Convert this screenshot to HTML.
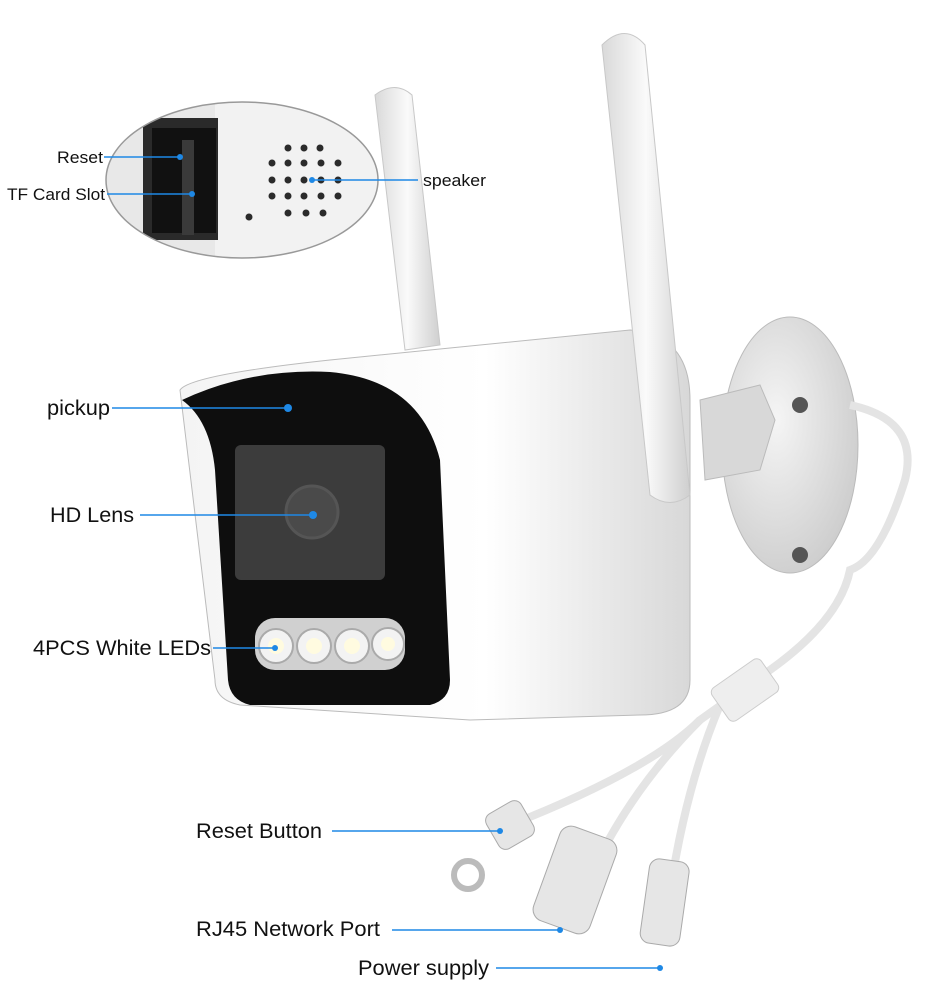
<!DOCTYPE html>
<html><head><meta charset="utf-8"><style>
html,body{margin:0;padding:0;background:#fff;}
svg{display:block;font-family:"Liberation Sans",sans-serif;}
</style></head><body>
<svg width="950" height="1000" viewBox="0 0 950 1000" xmlns="http://www.w3.org/2000/svg">
<defs>
<linearGradient id="body" x1="0" y1="0" x2="1" y2="0"><stop offset="0" stop-color="#f4f4f4"/><stop offset="0.6" stop-color="#ffffff"/><stop offset="1" stop-color="#d8d8d8"/></linearGradient>
<linearGradient id="ant" x1="0" y1="0" x2="1" y2="0"><stop offset="0" stop-color="#d9d9d9"/><stop offset="0.5" stop-color="#fafafa"/><stop offset="1" stop-color="#cfcfcf"/></linearGradient>
<radialGradient id="mnt" cx="0.4" cy="0.4" r="0.7"><stop offset="0" stop-color="#f5f5f5"/><stop offset="1" stop-color="#cacaca"/></radialGradient>
<clipPath id="ec"><ellipse cx="242" cy="180" rx="136" ry="78"/></clipPath>
</defs>
<g clip-path="url(#ec)">
<rect x="100" y="100" width="290" height="165" fill="#e8e8e8"/>
<rect x="215" y="100" width="170" height="165" fill="#f2f2f2"/>
<rect x="143" y="118" width="75" height="122" fill="#2a2a2a"/>
<rect x="152" y="128" width="64" height="105" fill="#111"/>
<rect x="182" y="140" width="12" height="95" fill="#3a3a3a"/>
</g>
<ellipse cx="242" cy="180" rx="136" ry="78" fill="none" stroke="#999" stroke-width="1.5"/>
<g fill="#2b2b2b">
<circle cx="288" cy="148" r="3.5"/><circle cx="304" cy="148" r="3.5"/><circle cx="320" cy="148" r="3.5"/>
<circle cx="272" cy="163" r="3.5"/><circle cx="288" cy="163" r="3.5"/><circle cx="304" cy="163" r="3.5"/><circle cx="321" cy="163" r="3.5"/><circle cx="338" cy="163" r="3.5"/>
<circle cx="272" cy="180" r="3.5"/><circle cx="288" cy="180" r="3.5"/><circle cx="304" cy="180" r="3.5"/><circle cx="321" cy="180" r="3.5"/><circle cx="338" cy="180" r="3.5"/>
<circle cx="272" cy="196" r="3.5"/><circle cx="288" cy="196" r="3.5"/><circle cx="304" cy="196" r="3.5"/><circle cx="321" cy="196" r="3.5"/><circle cx="338" cy="196" r="3.5"/>
<circle cx="288" cy="213" r="3.5"/><circle cx="306" cy="213" r="3.5"/><circle cx="323" cy="213" r="3.5"/>
<circle cx="249" cy="217" r="3.5"/>
</g>
<path d="M375 95 Q395 80 412 95 L440 345 L405 350 Z" fill="url(#ant)" stroke="#c8c8c8"/>
<ellipse cx="790" cy="445" rx="68" ry="128" fill="url(#mnt)" stroke="#bbb"/>
<circle cx="800" cy="405" r="8" fill="#555"/><circle cx="800" cy="555" r="8" fill="#555"/>
<path d="M700 400 L760 385 L775 420 L760 470 L705 480 Z" fill="#d8d8d8" stroke="#bbb"/>
<path d="M850 405 Q920 420 905 480 Q880 560 850 570 Q840 620 770 670 L700 720 Q650 770 510 825" fill="none" stroke="#e4e4e4" stroke-width="8"/>
<path d="M700 720 Q620 800 580 900" fill="none" stroke="#e4e4e4" stroke-width="8"/>
<path d="M720 705 Q680 800 665 930" fill="none" stroke="#e4e4e4" stroke-width="8"/>
<rect x="715" y="670" width="60" height="40" rx="6" fill="#eee" stroke="#ccc" transform="rotate(-35 745 690)"/>
<path d="M180 390 Q190 375 330 360 L630 330 Q690 335 690 400 L690 680 Q690 715 640 715 L470 720 L240 705 Q215 700 215 680 Z" fill="url(#body)" stroke="#bbb"/>
<path d="M182 400 Q250 368 330 372 Q420 380 440 460 L450 680 Q450 700 430 705 L250 705 Q230 700 228 680 L215 470 Q210 420 182 400 Z" fill="#0e0e0e"/>
<rect x="235" y="445" width="150" height="135" rx="6" fill="#3c3c3c"/>
<circle cx="312" cy="512" r="26" fill="#4a4a4a" stroke="#555" stroke-width="3"/>
<rect x="255" y="618" width="150" height="52" rx="20" fill="#d0d0d0"/>
<g fill="#f3f3f3" stroke="#aaa" stroke-width="2"><circle cx="276" cy="646" r="17"/><circle cx="314" cy="646" r="17"/><circle cx="352" cy="646" r="17"/><circle cx="388" cy="644" r="16"/></g>
<g fill="#fffbe0"><circle cx="276" cy="646" r="8"/><circle cx="314" cy="646" r="8"/><circle cx="352" cy="646" r="8"/><circle cx="388" cy="644" r="7"/></g>
<path d="M602 45 Q625 22 645 45 L690 495 Q670 510 650 495 Z" fill="url(#ant)" stroke="#c8c8c8"/>
<g fill="#e6e6e6" stroke="#aaa">
<rect x="490" y="805" width="40" height="40" rx="8" transform="rotate(-30 510 825)"/>
<circle cx="468" cy="875" r="14" fill="none" stroke="#bbb" stroke-width="6"/>
<rect x="545" y="830" width="60" height="100" rx="12" transform="rotate(20 575 880)"/>
<rect x="645" y="860" width="40" height="85" rx="10" transform="rotate(8 665 900)"/>
</g>
<g stroke="#1e88e5" stroke-width="1.5" fill="none">
<line x1="104" y1="157" x2="180" y2="157"/><line x1="107" y1="194" x2="192" y2="194"/>
<line x1="312" y1="180" x2="418" y2="180"/>
<line x1="112" y1="408" x2="288" y2="408"/><line x1="140" y1="515" x2="313" y2="515"/>
<line x1="213" y1="648" x2="275" y2="648"/><line x1="332" y1="831" x2="500" y2="831"/>
<line x1="392" y1="930" x2="560" y2="930"/><line x1="496" y1="968" x2="660" y2="968"/>
</g>
<g fill="#1e88e5"><circle cx="180" cy="157" r="3"/><circle cx="192" cy="194" r="3"/><circle cx="312" cy="180" r="3"/><circle cx="288" cy="408" r="4"/><circle cx="313" cy="515" r="4"/><circle cx="275" cy="648" r="3"/><circle cx="500" cy="831" r="3"/><circle cx="560" cy="930" r="3"/><circle cx="660" cy="968" r="3"/></g>
<g fill="#111" font-size="21">
<text x="57" y="163" font-size="17" textLength="46" lengthAdjust="spacingAndGlyphs">Reset</text>
<text x="7" y="200" font-size="17" textLength="98" lengthAdjust="spacingAndGlyphs">TF Card Slot</text>
<text x="423" y="186" font-size="17" textLength="63" lengthAdjust="spacingAndGlyphs">speaker</text>
<text x="47" y="415" textLength="63" lengthAdjust="spacingAndGlyphs">pickup</text>
<text x="50" y="522" textLength="84" lengthAdjust="spacingAndGlyphs">HD Lens</text>
<text x="33" y="655" textLength="178" lengthAdjust="spacingAndGlyphs">4PCS White LEDs</text>
<text x="196" y="838" textLength="126" lengthAdjust="spacingAndGlyphs">Reset Button</text>
<text x="196" y="936" textLength="184" lengthAdjust="spacingAndGlyphs">RJ45 Network Port</text>
<text x="358" y="975" textLength="131" lengthAdjust="spacingAndGlyphs">Power supply</text>
</g>
</svg>
</body></html>
